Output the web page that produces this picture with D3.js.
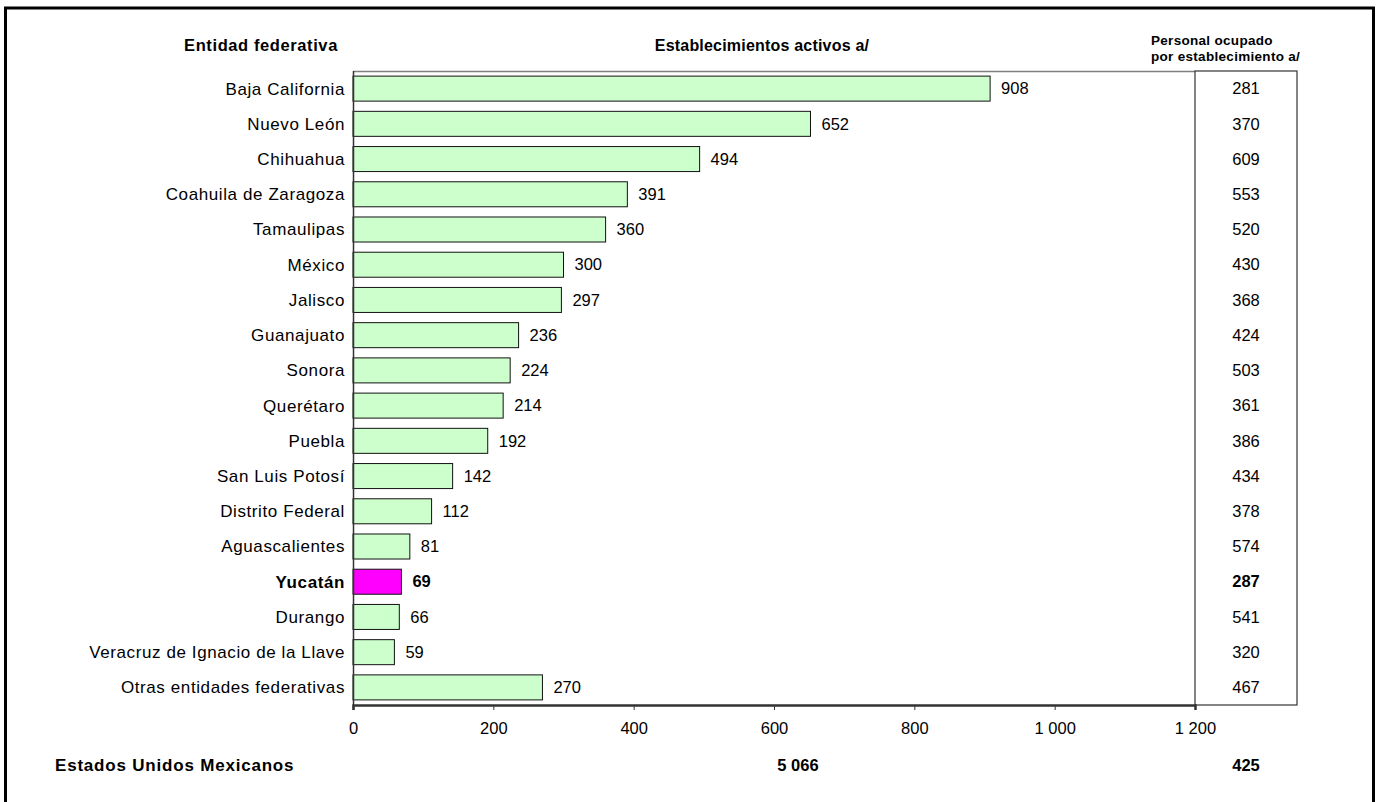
<!DOCTYPE html>
<html>
<head>
<meta charset="utf-8">
<script src="https://cdn.jsdelivr.net/npm/d3@7"></script>
<style>
  body { margin: 0; background: #fff; }
  text { font-family: Arial, "Liberation Sans", sans-serif; fill: #000; }
</style>
</head>
<body>
<div id="chart"></div>
<script>
// data
var entidades = ["Baja California", "Nuevo León", "Chihuahua", "Coahuila de Zaragoza", "Tamaulipas",
  "México", "Jalisco", "Guanajuato", "Sonora", "Querétaro", "Puebla", "San Luis Potosí",
  "Distrito Federal", "Aguascalientes", "Yucatán", "Durango", "Veracruz de Ignacio de la Llave",
  "Otras entidades federativas"];
var establecimientos = [908, 652, 494, 391, 360, 300, 297, 236, 224, 214, 192, 142, 112, 81, 69, 66, 59, 270];
var personal = [281, 370, 609, 553, 520, 430, 368, 424, 503, 361, 386, 434, 378, 574, 287, 541, 320, 467];
var xTicks = [0, 200, 400, 600, 800, 1000, 1200];
var destacado = "Yucatán";
var totalEstablecimientos = 5066;
var totalPersonal = 425;

var W = 1378, H = 802;
var margin = {top: 71, left: 353, right: 183, bottom: 97};
var width = W - margin.left - margin.right;
var height = H - margin.top - margin.bottom;

var fmt = function(v) { return d3.format(",")(v).replace(/,/g, " "); };
var negrita = function(d) { return d == destacado ? "bold" : "normal"; };

var svg = d3.select("#chart").append("svg")
  .attr("width", W).attr("height", H);

// outer frame
svg.append("rect")
  .attr("x", 5.5).attr("y", 8).attr("width", 1368).attr("height", 810)
  .attr("fill", "none").attr("stroke", "#000").attr("stroke-width", 3);

var g = svg.append("g").attr("transform", "translate(" + margin.left + "," + margin.top + ")");

var x = d3.scaleLinear().domain([0, 1200]).range([0, width]);
var y = d3.scaleBand().domain(entidades).range([0, height]).paddingInner(0.29).paddingOuter(0.145);

// top border of plot area
g.append("line")
  .attr("x1", 0).attr("x2", width).attr("y1", 0.5).attr("y2", 0.5)
  .attr("stroke", "#808080").attr("stroke-width", 1.5);

// bars
g.selectAll("rect.bar").data(entidades).enter().append("rect")
  .attr("class", "bar")
  .attr("x", 0)
  .attr("y", function(d) { return y(d); })
  .attr("width", function(d, i) { return x(establecimientos[i]); })
  .attr("height", y.bandwidth())
  .attr("fill", function(d) { return d == destacado ? "#ff00ff" : "#ccffcc"; })
  .attr("stroke", "#111").attr("stroke-width", 1);

// value labels
g.selectAll("text.val").data(entidades).enter().append("text")
  .attr("x", function(d, i) { return x(establecimientos[i]) + 11; })
  .attr("y", function(d) { return y(d) + y.bandwidth() / 2; })
  .attr("dy", "0.35em")
  .style("font-size", "16.5px")
  .style("font-weight", negrita)
  .text(function(d, i) { return establecimientos[i]; });

// category labels
g.selectAll("text.cat").data(entidades).enter().append("text")
  .attr("x", -8)
  .attr("y", function(d) { return y(d) + y.bandwidth() / 2; })
  .attr("dy", "0.35em")
  .attr("text-anchor", "end")
  .style("font-size", "17px")
  .style("letter-spacing", "0.6px")
  .style("font-weight", negrita)
  .text(function(d) { return d; });

// x axis
var xAxis = g.append("g")
  .attr("transform", "translate(0," + height + ")")
  .call(d3.axisBottom(x).tickValues(xTicks).tickSize(5).tickPadding(12).tickFormat(fmt));
xAxis.select(".domain").attr("stroke", "#333").attr("stroke-width", 2.5);
xAxis.selectAll(".tick line").attr("stroke", "#333");
xAxis.selectAll(".tick text").style("font-size", "16.5px").style("font-family", "Arial, 'Liberation Sans', sans-serif").attr("fill", "#000");

// y axis line
g.append("line")
  .attr("x1", 0.5).attr("x2", 0.5).attr("y1", 0).attr("y2", height + 5)
  .attr("stroke", "#333").attr("stroke-width", 1.5);

// right table box
var boxW = 102;
g.append("rect")
  .attr("x", width).attr("y", 0).attr("width", boxW).attr("height", height)
  .attr("fill", "none").attr("stroke", "#333").attr("stroke-width", 1.2);

g.selectAll("text.pers").data(entidades).enter().append("text")
  .attr("x", width + boxW / 2)
  .attr("y", function(d) { return y(d) + y.bandwidth() / 2; })
  .attr("dy", "0.35em")
  .attr("text-anchor", "middle")
  .style("font-size", "16.5px")
  .style("font-weight", negrita)
  .text(function(d, i) { return personal[i]; });

// headers
svg.append("text").attr("x", 261).attr("y", 51).attr("text-anchor", "middle")
  .style("font-size", "16.5px").style("letter-spacing", "0.6px").style("font-weight", "bold").text("Entidad federativa");
svg.append("text").attr("x", 762).attr("y", 51).attr("text-anchor", "middle")
  .style("font-size", "16px").style("letter-spacing", "0.2px").style("font-weight", "bold").text("Establecimientos activos a/");
svg.append("text").attr("x", 1151).attr("y", 45)
  .style("font-size", "13.5px").style("letter-spacing", "0.3px").style("font-weight", "bold").text("Personal ocupado");
svg.append("text").attr("x", 1151).attr("y", 61)
  .style("font-size", "13.5px").style("letter-spacing", "0.3px").style("font-weight", "bold").text("por establecimiento a/");

// totals row
svg.append("text").attr("x", 55).attr("y", 771)
  .style("font-size", "17px").style("letter-spacing", "0.8px").style("font-weight", "bold").text("Estados Unidos Mexicanos");
svg.append("text").attr("x", 798).attr("y", 771).attr("text-anchor", "middle")
  .style("font-size", "16.5px").style("font-weight", "bold").text(fmt(totalEstablecimientos));
svg.append("text").attr("x", margin.left + width + boxW / 2).attr("y", 771).attr("text-anchor", "middle")
  .style("font-size", "16.5px").style("font-weight", "bold").text(totalPersonal);
</script>
</body>
</html>
